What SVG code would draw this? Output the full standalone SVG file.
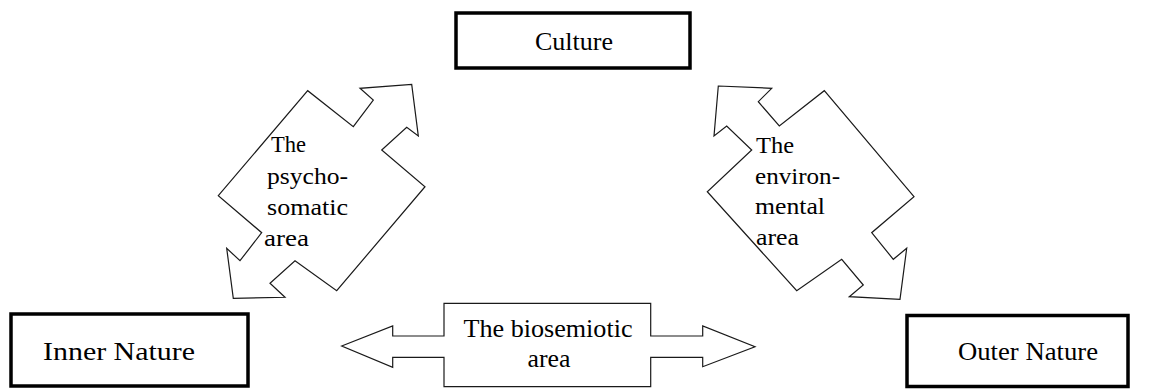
<svg xmlns="http://www.w3.org/2000/svg" width="1149" height="389" viewBox="0 0 1149 389">
  <style>
    .box { fill: #ffffff; stroke: #000000; stroke-width: 3.5; }
    .area { fill: #ffffff; stroke: #1a1a1a; stroke-width: 1.2; stroke-linejoin: miter; }
    .lbl { font-family: "Liberation Serif", "Times New Roman", serif; fill: #000000; }
    .big { font-size: 25px; }
    .small { font-size: 23px; }
  </style>
  <rect width="1149" height="389" fill="#ffffff"/>

  <!-- double-headed area arrows -->
  <g id="connectors">
    <g id="psychosomatic">
      <path class="area" d="M411.7,84.3 L418.3,136 L406.7,127.3 L381.7,150 L425,186.7 L336.7,290.7 L295,260.7 L270,283.3 L285,297.3 L233.3,298.3 L226.7,248.3 L240,260.7 L261.7,232.7 L218.3,195.7 L307.7,90.7 L353.3,126.7 L373.3,100 L360,88.3 Z"/>
      <text class="lbl small" x="271" y="152" textLength="35" lengthAdjust="spacingAndGlyphs">The</text>
      <text class="lbl small" x="267" y="184" textLength="81" lengthAdjust="spacingAndGlyphs">psycho-</text>
      <text class="lbl small" x="267" y="215" textLength="81" lengthAdjust="spacingAndGlyphs">somatic</text>
      <text class="lbl small" x="264" y="246" textLength="45" lengthAdjust="spacingAndGlyphs">area</text>
    </g>
    <g id="environmental">
      <path class="area" d="M718.3,86 L771.7,88.3 L758.3,101.7 L779.3,126 L824.3,90.7 L914,196.7 L871.7,232.7 L893.3,259.3 L906.7,248.3 L900,299.3 L849.3,296.7 L863.3,285 L841.7,259.3 L796.7,290.7 L707.3,191.7 L751.7,150 L726.7,126 L714,136 Z"/>
      <text class="lbl small" x="756" y="153" textLength="38" lengthAdjust="spacingAndGlyphs">The</text>
      <text class="lbl small" x="755" y="184" textLength="85" lengthAdjust="spacingAndGlyphs">environ-</text>
      <text class="lbl small" x="755" y="214" textLength="70" lengthAdjust="spacingAndGlyphs">mental</text>
      <text class="lbl small" x="756" y="245" textLength="43" lengthAdjust="spacingAndGlyphs">area</text>
    </g>
    <g id="biosemiotic">
      <path class="area" d="M341.7,346 L392.7,326 L392.7,336 L444,336 L444,303.3 L650.7,303.3 L650.7,336 L702.7,336 L702.7,326 L755,346.7 L702.7,366.7 L702.7,357.3 L650.7,357.3 L650.7,386.7 L444,386.7 L444,357.3 L392.7,357.3 L392.7,367.3 Z"/>
      <text class="lbl big" x="463.5" y="337" textLength="169" lengthAdjust="spacingAndGlyphs">The biosemiotic</text>
      <text class="lbl big" x="527.5" y="367" textLength="43" lengthAdjust="spacingAndGlyphs">area</text>
    </g>
  </g>

  <!-- concept boxes -->
  <g id="culture">
    <rect class="box" x="456" y="13" width="234" height="55"/>
    <text class="lbl big" x="535" y="50" textLength="78" lengthAdjust="spacingAndGlyphs">Culture</text>
  </g>
  <g id="inner-nature">
    <rect class="box" x="11" y="314" width="237" height="72"/>
    <text class="lbl big" x="43" y="360" textLength="152" lengthAdjust="spacingAndGlyphs">Inner Nature</text>
  </g>
  <g id="outer-nature">
    <rect class="box" x="907" y="315.5" width="221" height="71"/>
    <text class="lbl big" x="958" y="360" textLength="140" lengthAdjust="spacingAndGlyphs">Outer Nature</text>
  </g>
</svg>
